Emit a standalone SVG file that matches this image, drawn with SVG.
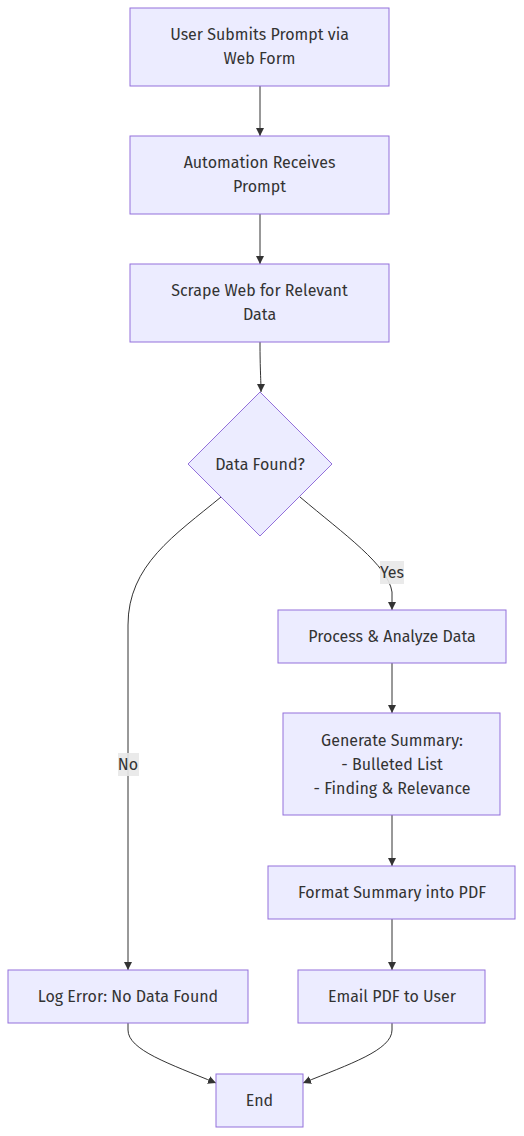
<svg xmlns="http://www.w3.org/2000/svg" width="524" height="1136" viewBox="0 0 524 1136">
<style>
.node rect,.node polygon{fill:#ECECFF;stroke:#9370DB;stroke-width:1}
text{font-family:"Fira Sans",Lato,"Liberation Sans",sans-serif;font-size:16px;fill:#333;text-anchor:middle;dominant-baseline:central}
.edge{fill:none;stroke:#333;stroke-width:1}
.lbl{fill:#e8e8e8;opacity:0.9}
</style>
<defs>
<marker id="arr" viewBox="0 0 10 10" refX="10" refY="5" markerWidth="8" markerHeight="8" markerUnits="userSpaceOnUse" orient="auto">
<path d="M0,0 L10,5 L0,10 z" fill="#333"/>
</marker>
</defs>
<rect width="524" height="1136" fill="#fff"/>
<g id="connectors">
<path class="edge" d="M260,86 L260,136" marker-end="url(#arr)"/>
<path class="edge" d="M260,214 L260,264" marker-end="url(#arr)"/>
<path class="edge" d="M260,342 C260,370 261,380 261,392" marker-end="url(#arr)"/>
<path class="edge" d="M300,497 C345,535 388,565 392,592 L392,610" marker-end="url(#arr)"/>
<path class="edge" d="M221,497 C175,535 128,565 128,625 L128,970" marker-end="url(#arr)"/>
<path class="edge" d="M392,663 L392,713" marker-end="url(#arr)"/>
<path class="edge" d="M392,815 L392,866" marker-end="url(#arr)"/>
<path class="edge" d="M392,919 L392,970" marker-end="url(#arr)"/>
<path class="edge" d="M128,1023 L128,1030 C128,1050 170,1064 216,1083" marker-end="url(#arr)"/>
<path class="edge" d="M392,1023 L392,1030 C392,1050 350,1064 303,1083" marker-end="url(#arr)"/>
<g id="label-yes"><rect class="lbl" x="380" y="561" width="24" height="23"/><text x="392" y="572">Yes</text></g>
<g id="label-no"><rect class="lbl" x="118" y="753" width="21" height="23"/><text x="128" y="764">No</text></g>
</g>
<g id="nodeA" class="node"><rect x="130" y="8" width="259" height="78"/><text x="259.5" y="34">User Submits Prompt via</text><text x="259.5" y="58">Web Form</text></g>
<g id="nodeB" class="node"><rect x="130" y="136" width="259" height="78"/><text x="259.5" y="162">Automation Receives</text><text x="259.5" y="186">Prompt</text></g>
<g id="nodeC" class="node"><rect x="130" y="264" width="259" height="78"/><text x="259.5" y="290">Scrape Web for Relevant</text><text x="259.5" y="314">Data</text></g>
<g id="nodeD" class="node"><polygon points="260,392 332,464 260,536 188,464"/><text x="260" y="464">Data Found?</text></g>
<g id="nodeE" class="node"><rect x="278" y="610" width="228" height="53"/><text x="392" y="636">Process &amp; Analyze Data</text></g>
<g id="nodeF" class="node"><rect x="283" y="713" width="217" height="102"/><text x="392" y="740">Generate Summary:</text><text x="392" y="764">- Bulleted List</text><text x="392" y="788">- Finding &amp; Relevance</text></g>
<g id="nodeG" class="node"><rect x="268" y="866" width="247" height="53"/><text x="392" y="892">Format Summary into PDF</text></g>
<g id="nodeH" class="node"><rect x="298" y="970" width="187" height="53"/><text x="392" y="996">Email PDF to User</text></g>
<g id="nodeI" class="node"><rect x="8" y="970" width="240" height="53"/><text x="128" y="996">Log Error: No Data Found</text></g>
<g id="nodeJ" class="node"><rect x="216" y="1074" width="87" height="53"/><text x="259.5" y="1100">End</text></g>
</svg>
